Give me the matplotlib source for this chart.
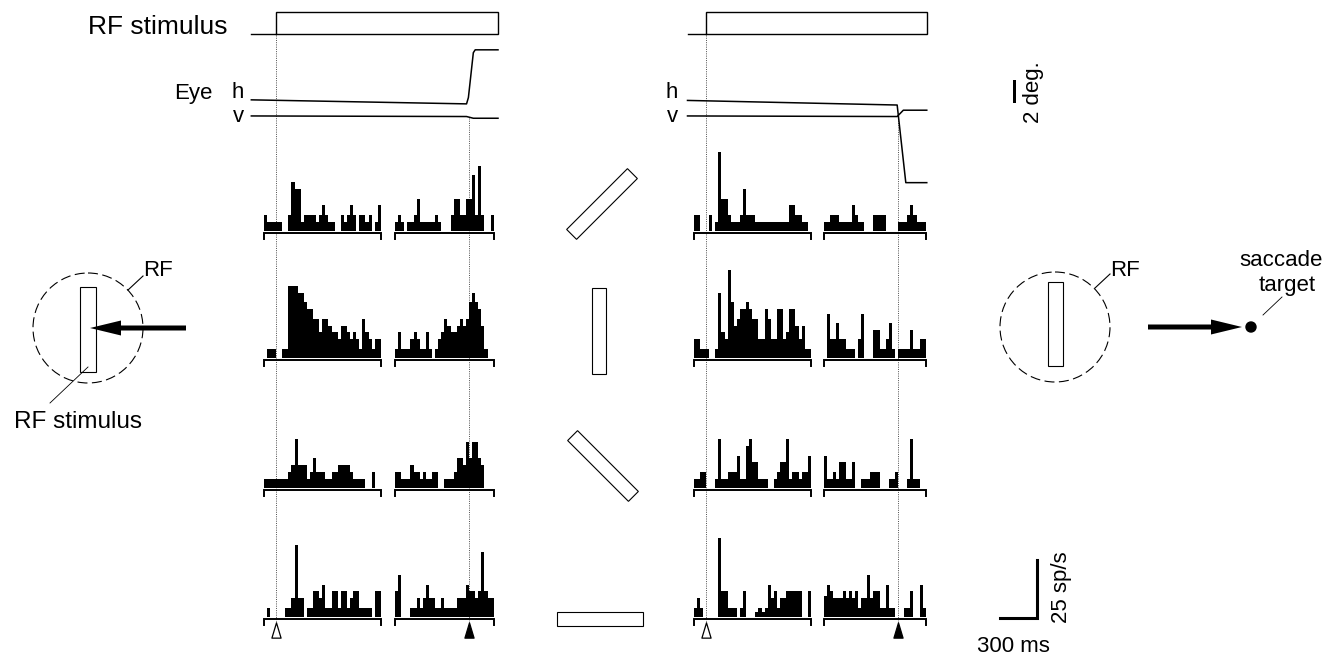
import numpy as np
import matplotlib
matplotlib.use('Agg')
import matplotlib.pyplot as plt
from matplotlib.patches import Rectangle, Circle, FancyArrow
from matplotlib.path import Path

# ---- data (sp/s per 25 ms bin) ----
BIN = 25
STIM_T0 = -100      # stimulus-aligned window start (ms)
SAC_T0 = -600       # saccade-aligned window start (ms)

LEFT_STIM = [
    [7, 4, 4, 4, 4, 4, 0, 0, 7, 21, 18, 18, 4, 7, 7, 7, 7, 4, 7, 11, 7, 4, 4, 0, 0, 7, 4, 7, 11, 7, 0, 7, 7, 4, 7, 0, 4, 11],
    [0, 4, 4, 4, 0, 0, 4, 4, 31, 31, 31, 28, 28, 24, 21, 21, 17, 17, 11, 17, 17, 14, 11, 11, 8, 14, 14, 11, 8, 11, 8, 4, 17, 11, 8, 4, 8, 8],
    [4, 4, 4, 4, 4, 4, 4, 4, 7, 10, 21, 10, 10, 10, 4, 7, 13, 7, 7, 7, 4, 4, 7, 7, 10, 10, 10, 10, 7, 4, 4, 4, 4, 0, 0, 7, 0, 0],
    [0, 4, 0, 0, 0, 0, 0, 4, 4, 8, 31, 8, 8, 0, 4, 4, 11, 11, 8, 14, 4, 4, 11, 11, 4, 11, 11, 4, 8, 11, 11, 4, 4, 4, 4, 0, 11, 11],
]
LEFT_SAC = [
    [4, 7, 4, 0, 4, 4, 7, 14, 4, 4, 4, 4, 4, 7, 4, 0, 0, 0, 7, 14, 14, 7, 7, 14, 14, 24, 7, 28, 7, 0, 0, 7],
    [4, 11, 4, 4, 4, 8, 11, 8, 4, 4, 11, 4, 0, 4, 8, 11, 17, 14, 11, 11, 14, 17, 14, 17, 24, 28, 24, 21, 14, 4, 0, 0],
    [7, 7, 4, 4, 4, 10, 7, 7, 4, 7, 4, 4, 7, 7, 0, 0, 4, 4, 4, 7, 13, 13, 10, 20, 13, 20, 20, 13, 10, 0, 0, 0],
    [11, 18, 0, 0, 0, 4, 4, 8, 4, 8, 14, 8, 8, 4, 4, 8, 4, 4, 4, 4, 8, 8, 8, 14, 11, 11, 8, 11, 28, 11, 8, 8],
]
RIGHT_STIM = [
    [7, 7, 0, 0, 0, 7, 0, 4, 34, 14, 14, 7, 4, 4, 4, 7, 18, 7, 7, 7, 4, 4, 4, 4, 4, 4, 4, 4, 4, 4, 4, 11, 11, 7, 7, 4, 4, 0],
    [8, 8, 4, 4, 4, 0, 0, 4, 28, 11, 8, 38, 24, 14, 17, 21, 21, 24, 21, 17, 17, 8, 8, 21, 17, 8, 8, 21, 21, 8, 11, 21, 21, 14, 8, 14, 4, 4],
    [4, 4, 7, 7, 0, 0, 0, 4, 21, 4, 4, 7, 7, 7, 14, 4, 4, 18, 21, 11, 11, 4, 4, 4, 0, 0, 4, 7, 11, 11, 21, 4, 7, 7, 4, 7, 7, 14],
    [4, 8, 4, 0, 0, 0, 0, 0, 34, 11, 11, 4, 4, 4, 0, 4, 11, 0, 0, 0, 2, 4, 2, 4, 14, 8, 11, 4, 8, 8, 11, 11, 11, 11, 11, 0, 0, 11],
]
RIGHT_SAC = [
    [4, 4, 7, 7, 7, 4, 4, 4, 4, 11, 7, 4, 4, 0, 0, 0, 7, 7, 7, 7, 0, 0, 0, 0, 4, 4, 4, 7, 11, 7, 4, 4, 4],
    [0, 19, 8, 8, 15, 8, 8, 4, 4, 4, 0, 8, 19, 0, 0, 0, 12, 12, 4, 4, 8, 15, 4, 0, 4, 4, 4, 4, 12, 4, 4, 8, 8],
    [14, 4, 4, 7, 4, 11, 11, 4, 4, 11, 0, 0, 4, 4, 4, 7, 7, 7, 0, 0, 0, 4, 4, 7, 0, 0, 0, 4, 21, 4, 4, 0, 0],
    [9, 14, 11, 8, 8, 8, 11, 8, 11, 8, 11, 4, 8, 8, 18, 8, 11, 11, 4, 4, 14, 4, 4, 0, 0, 0, 4, 4, 11, 0, 0, 14, 4],
]
ORIENTATIONS = [45, 90, 135, 0]   # stimulus bar orientation per row (deg)

# stimulus and eye traces (time from stimulus onset, ms; eye in deg)
STIM_T_LEFT = [-200, 0, 0, 1800, 1800, 0]
STIM_T_RIGHT = [-150, 0, 0, 1790, 1790, 0]
STIM_LEVEL = [0, 0, 1, 1, 0, 0]
SAC_TIME = [1565, 1557]           # saccade onset for left / right condition
EYE_T_LEFT = [-200, 1545, 1560, 1600, 1615, 1800]
EYE_H_LEFT = [0.1, -0.25, 0.3, 4.2, 4.45, 4.45]
EYE_V_LEFT_T = [-200, 1545, 1600, 1800]
EYE_V_LEFT = [-1.3, -1.35, -1.5, -1.5]
EYE_T_RIGHT = [-150, 1550, 1620, 1790]
EYE_H_RIGHT = [0.05, -0.35, -7.1, -7.1]
EYE_V_RIGHT_T = [-150, 1550, 1600, 1790]
EYE_V_RIGHT = [-1.3, -1.35, -0.8, -0.8]

# ---- layout (pixels) ----
W, H = 1341, 660
PX_PER_MS = 37 / 300
PX_PER_SPS = 58 / 25
PX_PER_DEG = 23 / 2
ONSET_PX = [276, 706]
ROW_BASE = [231, 358, 488, 617]

plt.rcParams['font.family'] = ['Liberation Sans Narrow', 'Liberation Sans', 'DejaVu Sans']
FS = 16

fig = plt.figure(figsize=(W / 100, H / 100), dpi=100)
ov = fig.add_axes([0, 0, 1, 1])
ov.set_xlim(0, W)
ov.set_ylim(H, 0)
ov.axis('off')


def time_axes(onset_px, t0, t1, y_top, y_bot):
    x0 = onset_px + t0 * PX_PER_MS
    ax = fig.add_axes([x0 / W, 1 - y_bot / H, (t1 - t0) * PX_PER_MS / W, (y_bot - y_top) / H])
    ax.set_xlim(t0, t1)
    ax.patch.set_visible(False)
    ax.axis('off')
    return ax


def hist_panel(onset_px, base_px, rates, t0):
    t1 = t0 + BIN * len(rates)
    ax = time_axes(onset_px, t0, t1, base_px - 100, base_px + 12)
    ax.set_ylim(-12 / PX_PER_SPS, 100 / PX_PER_SPS)
    edges = t0 + BIN * np.arange(len(rates))
    ax.bar(edges, rates, width=BIN, align='edge', color='black', linewidth=0)
    ax.plot([t0, t0, t1, t1], [-3.3, -1, -1, -3.3], color='black', lw=1.4,
            solid_joinstyle='miter', clip_on=False)


# histograms
tri = Path([(-0.3, -0.5), (0.3, -0.5), (0, 0.5), (-0.3, -0.5)],
           [Path.MOVETO, Path.LINETO, Path.LINETO, Path.CLOSEPOLY])
for g, (stim, sac) in enumerate([(LEFT_STIM, LEFT_SAC), (RIGHT_STIM, RIGHT_SAC)]):
    onset = ONSET_PX[g]
    sac_px = onset + SAC_TIME[g] * PX_PER_MS
    for r in range(4):
        hist_panel(onset, ROW_BASE[r], stim[r], STIM_T0)
        hist_panel(sac_px, ROW_BASE[r], sac[r], SAC_T0)
    # alignment lines
    ov.plot([onset, onset], [35, 622], color='0.3', lw=0.7, ls=(0, (1, 1.3)), zorder=0)
    ov.plot([sac_px, sac_px], [118, 622], color='0.3', lw=0.7, ls=(0, (1, 1.3)), zorder=0)
    ov.plot(onset, 630, marker=tri, ms=11, mfc='white', mec='black', mew=0.9)
    ov.plot(sac_px, 630, marker=tri, ms=11, mfc='black', mec='black', mew=0.9)

# stimulus traces
for g, st in enumerate([STIM_T_LEFT, STIM_T_RIGHT]):
    ax = time_axes(ONSET_PX[g], st[0], st[3], 5, 40)
    ax.set_ylim(-6 / 22, 1 + 7 / 22)
    ax.plot(st, STIM_LEVEL, color='black', lw=1.0, solid_joinstyle='miter', clip_on=False)

# eye traces
eyes = [(EYE_T_LEFT, EYE_H_LEFT, EYE_V_LEFT_T, EYE_V_LEFT),
        (EYE_T_RIGHT, EYE_H_RIGHT, EYE_V_RIGHT_T, EYE_V_RIGHT)]
for g, (th, h, tv, v) in enumerate(eyes):
    ax = time_axes(ONSET_PX[g], th[0], th[-1], 40, 200)
    ax.set_ylim(-(200 - 101) / PX_PER_DEG, (101 - 40) / PX_PER_DEG)
    ax.plot(th, h, color='black', lw=1.1, clip_on=False)
    ax.plot(tv, v, color='black', lw=1.1, clip_on=False)

# labels of traces
ov.text(228, 27, 'RF stimulus', ha='right', va='center', fontsize=19)
ov.text(213, 94, 'Eye', ha='right', va='center', fontsize=FS)
for xh in (244, 678):
    ov.text(xh, 93, 'h', ha='right', va='center', fontsize=FS)
    ov.text(xh, 116, 'v', ha='right', va='center', fontsize=FS)

# 2 deg scale bar
ov.add_patch(Rectangle((1013.5, 80), 2.6, 2 * PX_PER_DEG, facecolor='black', edgecolor='none', zorder=5))
ov.text(1034, 92, '2 deg.', rotation=90, ha='center', va='center', fontsize=FS)

# oriented bar stimuli
centers = [(602, 204), (599, 331), (603, 466), (600, 619)]
for (cx, cy), ang in zip(centers, ORIENTATIONS):
    ov.add_patch(Rectangle((cx - 43, cy - 7), 86, 14, angle=-ang, rotation_point='center',
                           facecolor='white', edgecolor='black', lw=0.8))

# left schematic
ov.add_patch(Circle((88, 328), 55, fill=False, edgecolor='black', lw=0.8, ls=(0, (9, 4))))
ov.add_patch(Rectangle((80, 287), 16, 85, facecolor='white', edgecolor='black', lw=0.8))
ov.add_patch(FancyArrow(186, 328, -96, 0, width=5, head_width=15, head_length=31,
                        length_includes_head=True, color='black', lw=0))
ov.plot([128, 143], [290, 276], color='black', lw=0.8)
ov.text(143, 271, 'RF', ha='left', va='center', fontsize=FS)
ov.plot([50, 88], [403, 367], color='black', lw=0.6)
ov.text(78, 422, 'RF stimulus', ha='center', va='center', fontsize=17.5)

# right schematic
ov.add_patch(Circle((1055, 327), 55, fill=False, edgecolor='black', lw=0.8, ls=(0, (9, 4))))
ov.add_patch(Rectangle((1048, 282), 15, 84, facecolor='white', edgecolor='black', lw=0.8))
ov.add_patch(FancyArrow(1148, 327, 94, 0, width=5, head_width=15, head_length=31,
                        length_includes_head=True, color='black', lw=0))
ov.add_patch(Circle((1251, 327), 5, color='black'))
ov.plot([1095, 1110], [288, 274], color='black', lw=0.8)
ov.text(1110, 271, 'RF', ha='left', va='center', fontsize=FS)
ov.plot([1263, 1282], [315, 297], color='black', lw=0.6)
ov.text(1281, 261, 'saccade', ha='center', va='center', fontsize=FS)
ov.text(1287, 286, 'target', ha='center', va='center', fontsize=FS)

# rate / time scale bar
ov.plot([1037 - 300 * PX_PER_MS, 1037, 1037], [618, 618, 618 - 25 * PX_PER_SPS],
        color='black', lw=2.2, solid_joinstyle='miter')
ov.text(1062, 587, '25 sp/s', rotation=90, ha='center', va='center', fontsize=FS)
ov.text(1013, 647, '300 ms', ha='center', va='center', fontsize=FS)

fig.savefig('out.png', dpi=100)
